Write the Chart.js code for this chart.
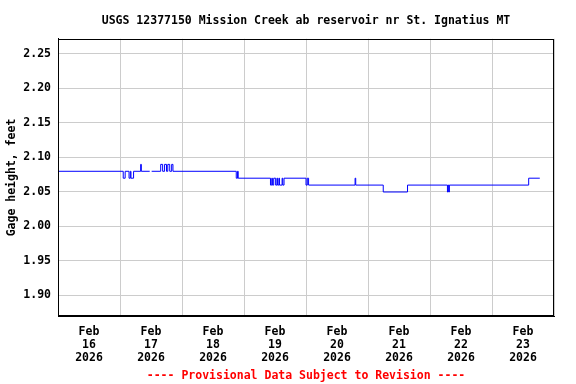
<!DOCTYPE html>
<html>
<head>
<meta charset="utf-8">
<script src="https://cdn.jsdelivr.net/npm/chart.js@4"></script>
<style>
  body { margin: 0; background: #fff; }
</style>
</head>
<body>
<canvas id="gageChart" width="576" height="384"></canvas>
<script>
// hours since Feb 16 2026 00:00, value holds until next change
const stepHours = [
  0, 25.25, 26.0, 27.5, 28.0, 28.25, 29.25, 32.0, 32.25, 35.5, 35.75, 36.25,
  39.75, 40.5, 41.25, 42.0, 42.5, 43.25, 44.0, 44.5,
  69.0, 69.5, 69.75,
  82.25, 82.75, 83.0, 83.5, 84.25, 84.75, 85.0, 85.5, 85.75, 86.75, 87.0, 87.5,
  96.0, 96.5, 97.0,
  115.0, 115.25,
  125.9, 135.3,
  150.75, 151.0, 151.25, 151.5,
  182.2, 186.5
];
const gageFeet = [
  2.08, 2.07, 2.08, 2.07, 2.08, 2.07, 2.08, 2.09, 2.08, 2.08, null, 2.08,
  2.09, 2.08, 2.09, 2.08, 2.09, 2.08, 2.09, 2.08,
  2.07, 2.08, 2.07,
  2.06, 2.07, 2.06, 2.07, 2.06, 2.07, 2.06, 2.07, 2.06, 2.07, 2.06, 2.07,
  2.06, 2.07, 2.06,
  2.07, 2.06,
  2.05, 2.06,
  2.05, 2.06, 2.05, 2.06,
  2.07, 2.07
];
const dayLabels = ["16", "17", "18", "19", "20", "21", "22", "23"];
const yTicks = [1.90, 1.95, 2.00, 2.05, 2.10, 2.15, 2.20, 2.25];

const points = stepHours.map(function (h, i) {
  return { x: h, y: gageFeet[i] };
});

Chart.defaults.font.family = "'DejaVu Sans Mono', monospace";
Chart.defaults.font.size = 11.5;
Chart.defaults.font.weight = "bold";
Chart.defaults.color = "#000";

// black frame round the plot
const frame = {
  id: "frame",
  afterDraw(chart) {
    const a = chart.chartArea;
    const ctx = chart.ctx;
    ctx.save();
    ctx.strokeStyle = "#000";
    ctx.lineWidth = 1;
    ctx.strokeRect(Math.round(a.left) + 0.5, Math.round(a.top) + 0.5,
      Math.round(a.right - a.left) - 1, Math.round(a.bottom - a.top) - 1);
    ctx.restore();
  },
};

const config = {
  type: "line",
  data: {
    datasets: [
      {
        data: points,
        borderColor: "#0000ff",
        borderWidth: 1,
        pointRadius: 0,
        stepped: true,
        spanGaps: false,
        fill: false,
      },
    ],
  },
  options: {
    responsive: false,
    animation: false,
    layout: { padding: { left: 0, right: 22, top: 0, bottom: 0 } },
    plugins: {
      legend: { display: false },
      tooltip: { enabled: false },
      title: {
        display: true,
        fullSize: false,
        text: "USGS 12377150 Mission Creek ab reservoir nr St. Ignatius MT",
        padding: { top: 14, bottom: 11 },
        font: { size: 11.5, weight: "bold" },
        color: "#000",
      },
      subtitle: {
        display: true,
        position: "bottom",
        fullSize: false,
        text: "---- Provisional Data Subject to Revision ----",
        padding: { top: 3, bottom: 1 },
        font: { size: 11.5, weight: "bold" },
        color: "#ff0000",
      },
    },
    scales: {
      x: {
        type: "linear",
        min: 0,
        max: 192,
        afterBuildTicks(scale) {
          const t = [];
          for (let h = 0; h <= 192; h += 12) t.push({ value: h });
          scale.ticks = t;
        },
        afterFit(scale) {
          scale.height = 50;
        },
        ticks: {
          autoSkip: false,
          maxRotation: 0,
          padding: 9,
          font: { lineHeight: 1.13 },
          callback: function (v) {
            if (v % 24 === 12) {
              return ["Feb", dayLabels[(v - 12) / 24], "2026"];
            }
            return "";
          },
        },
        grid: {
          drawTicks: false,
          color: function (ctx) {
            return ctx.tick && ctx.tick.value % 24 === 0 ? "#cccccc" : "rgba(0,0,0,0)";
          },
        },
        border: { color: "#000" },
      },
      y: {
        min: 1.87,
        max: 2.272,
        afterBuildTicks(scale) {
          scale.ticks = yTicks.map(function (v) {
            return { value: v };
          });
        },
        afterFit(scale) {
          scale.width = 58;
        },
        ticks: {
          padding: 7,
          callback: function (v) {
            return v.toFixed(2);
          },
        },
        grid: { drawTicks: false, color: "#cccccc" },
        border: { color: "#000" },
        title: {
          display: true,
          text: "Gage height, feet",
          padding: { top: 5, bottom: 0 },
          font: { size: 11.5, weight: "bold" },
        },
      },
    },
  },
  plugins: [frame],
};

const gageChart = new Chart(document.getElementById("gageChart"), config);
</script>
</body>
</html>
